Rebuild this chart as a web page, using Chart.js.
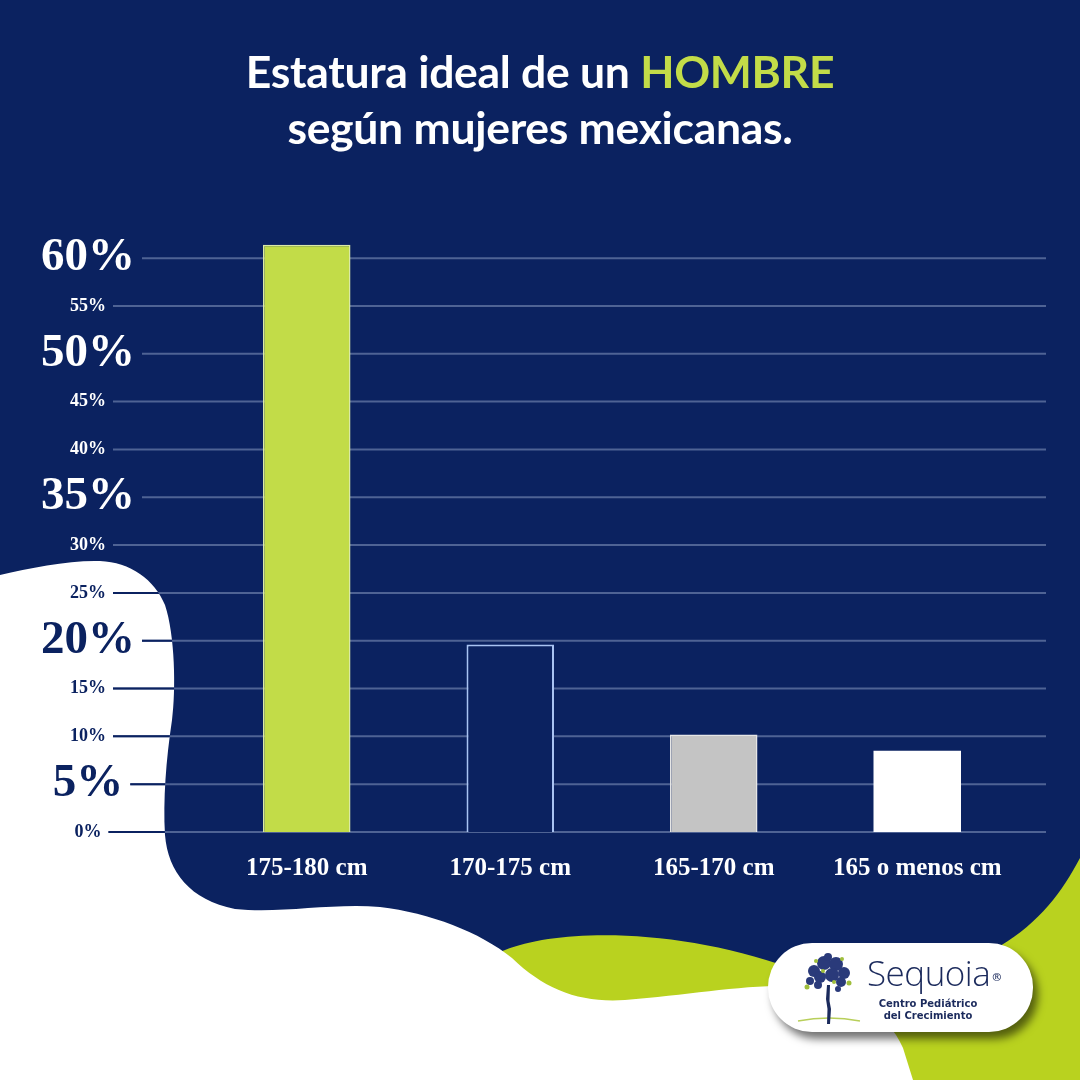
<!DOCTYPE html>
<html><head><meta charset="utf-8">
<script src="https://cdn.jsdelivr.net/npm/chart.js@4.4.1/dist/chart.umd.min.js"></script>
<style>
html,body{margin:0;padding:0;background:#0b2260;}
#wrap{position:relative;width:1080px;height:1080px;overflow:hidden;}
#c{position:absolute;left:0;top:0;}
#title{position:absolute;left:0;top:43px;width:1080px;text-align:center;color:#fff;font-family:Lato,"Open Sans",sans-serif;font-weight:700;font-size:44.5px;line-height:56px;letter-spacing:-0.3px;}
#title .hl{color:#c3dc48;}
#logo{position:absolute;left:768px;top:943px;width:265px;height:89px;border-radius:44px;background:#fff;box-shadow:5px 7px 9px rgba(0,0,0,0.55);}
#logo svg{position:absolute;left:26px;top:6px;}
#logo .name{position:absolute;left:99px;top:10px;font-family:"Open Sans",sans-serif;font-weight:300;font-size:35px;color:#1b2a5c;letter-spacing:-0.5px;line-height:40px;}
#logo .name sup{font-size:11px;font-weight:600;vertical-align:top;position:relative;top:4px;margin-left:2px;}
#logo .sub{position:absolute;left:100px;top:55px;width:120px;text-align:center;font-family:"DejaVu Sans",sans-serif;font-weight:700;font-size:10px;line-height:12px;color:#1b2a5c;}
</style>
</head><body>
<div id="wrap">
<canvas id="c" width="1080" height="1080"></canvas>
<div id="title">Estatura ideal de un <span class="hl">HOMBRE</span><br>según mujeres mexicanas.</div>
<div id="logo">
<svg width="70" height="80" viewBox="0 0 70 80">
<path d="M4 72 Q35 66 66 72" stroke="#b8cf5a" stroke-width="1.5" fill="none"/>
<path d="M33 36 L36 36 L35.5 52 L37 60 L36 75 L33 75 L33.5 60 L32 50 Z" fill="#1b2a5c"/>
<g fill="#2a3a7a">
<circle cx="20" cy="22" r="6"/><circle cx="30" cy="14" r="7"/><circle cx="42" cy="15" r="7"/><circle cx="50" cy="24" r="6"/>
<circle cx="26" cy="28" r="6"/><circle cx="38" cy="26" r="7"/><circle cx="47" cy="33" r="5"/><circle cx="16" cy="32" r="4"/>
<circle cx="34" cy="8" r="4"/><circle cx="24" cy="36" r="4"/><circle cx="44" cy="40" r="3"/>
</g>
<g fill="#9fbe3c"><circle cx="13" cy="38" r="2.5"/><circle cx="55" cy="34" r="2.5"/><circle cx="22" cy="12" r="2"/><circle cx="48" cy="10" r="2"/><circle cx="40" cy="33" r="2"/><circle cx="29" cy="22" r="2"/></g>
</svg>
<div class="name">Sequoia<sup>®</sup></div>
<div class="sub">Centro Pediátrico<br>del Crecimiento</div>
</div>
</div>
<script>
// ---- data ----
const CATEGORIES = ['175-180 cm', '170-175 cm', '165-170 cm', '165 o menos cm'];
const VALUES = [61.4, 19.6, 10.2, 8.5];
const Y_TICKS = [0, 5, 10, 15, 20, 25, 30, 35, 40, 45, 50, 55, 60];
const BIG_TICKS = [5, 20, 35, 50, 60];

// ---- style ----
const NAVY = '#0b2260';
const LIME = '#b9d21f';
const GRID = '#4f6394';
const BAR_FILL = ['#c2dc48', NAVY, '#c4c4c4', '#ffffff'];
const BAR_BORDER = ['#dbeaa6', '#a9c3f2', '#e6e6e6', '#ffffff'];
const BAR_BW = [1.5, 2, 1.5, 0];
const SERIF = '"Liberation Serif","DejaVu Serif",serif';
const BIG_SIZE = 47, SMALL_SIZE = 18, Y_PAD = 70;

const LIME_PATH = new Path2D('M505,950 C560,928 680,928 790,968 L1000,946 C1040,922 1062,892 1080,858 L1080,1080 L480,1080 L480,960 Z');
const WHITE_PATH = new Path2D('M0,575 C30,568 70,560 100,561 C130,562 155,580 165,605 C175,635 176,690 172,720 C166,760 163,800 165,835 C168,872 190,900 235,909 C280,914 330,903 380,907 C430,913 480,932 512,958 C545,990 580,1003 625,1000 C690,995 745,984 800,986 C850,992 888,1012 903,1048 L913,1080 L0,1080 Z');

const bgPlugin = {
  id: 'bg',
  beforeDraw(chart) {
    const ctx = chart.ctx;
    ctx.save();
    ctx.fillStyle = NAVY;
    ctx.fillRect(0, 0, chart.width, chart.height);
    ctx.fillStyle = LIME;
    ctx.fill(LIME_PATH);
    ctx.fillStyle = '#ffffff';
    ctx.fill(WHITE_PATH);
    ctx.restore();
  },
  beforeDatasetsDraw(chart) {
    const ctx = chart.ctx, y = chart.scales.y, area = chart.chartArea;
    const items = y.ticks.map(t => {
      const big = BIG_TICKS.includes(t.value);
      ctx.font = 'bold ' + (big ? BIG_SIZE : SMALL_SIZE) + 'px ' + SERIF;
      return { py: y.getPixelForValue(t.value), w: ctx.measureText(t.value + '%').width };
    });
    const widest = Math.max(...items.map(i => i.w));
    const cx = y.right - Y_PAD - widest / 2;
    const xEnd = area.right + 27;
    ctx.save();
    ctx.lineWidth = 2;
    ctx.strokeStyle = GRID;
    items.forEach(it => {
      ctx.beginPath(); ctx.moveTo(cx + it.w / 2 + 7, it.py); ctx.lineTo(xEnd, it.py); ctx.stroke();
    });
    ctx.clip(WHITE_PATH);
    ctx.strokeStyle = NAVY;
    items.forEach(it => {
      ctx.beginPath(); ctx.moveTo(cx + it.w / 2 + 7, it.py); ctx.lineTo(xEnd, it.py); ctx.stroke();
    });
    ctx.restore();
  }
};

new Chart(document.getElementById('c'), {
  type: 'bar',
  data: {
    labels: CATEGORIES,
    datasets: [{
      data: VALUES,
      backgroundColor: BAR_FILL,
      borderColor: BAR_BORDER,
      borderWidth: BAR_BW,
      barPercentage: 0.43,
      categoryPercentage: 1
    }]
  },
  options: {
    responsive: false,
    animation: false,
    layout: { padding: { left: 42, right: 61, top: 239, bottom: 188 } },
    plugins: { legend: { display: false }, tooltip: { enabled: false } },
    scales: {
      x: {
        grid: { display: false, drawTicks: false },
        border: { display: false },
        ticks: { color: '#ffffff', font: { family: SERIF, weight: 'bold', size: 25 }, padding: 22, maxRotation: 0, autoSkip: false },
        afterFit(s) { s.height = 60; }
      },
      y: {
        min: 0, max: 62,
        grid: { display: false, drawTicks: false },
        border: { display: false },
        afterBuildTicks(s) { s.ticks = Y_TICKS.map(v => ({ value: v })); },
        ticks: {
          callback: v => v + '%',
          crossAlign: 'center',
          padding: Y_PAD,
          autoSkip: false,
          color: c => (c.tick && c.tick.value <= 25) ? NAVY : '#ffffff',
          font: c => ({ family: SERIF, weight: 'bold', size: (c.tick && BIG_TICKS.includes(c.tick.value)) ? BIG_SIZE : SMALL_SIZE })
        },
        afterFit(s) { s.width = 163; }
      }
    }
  },
  plugins: [bgPlugin]
});
</script>
</body></html>
